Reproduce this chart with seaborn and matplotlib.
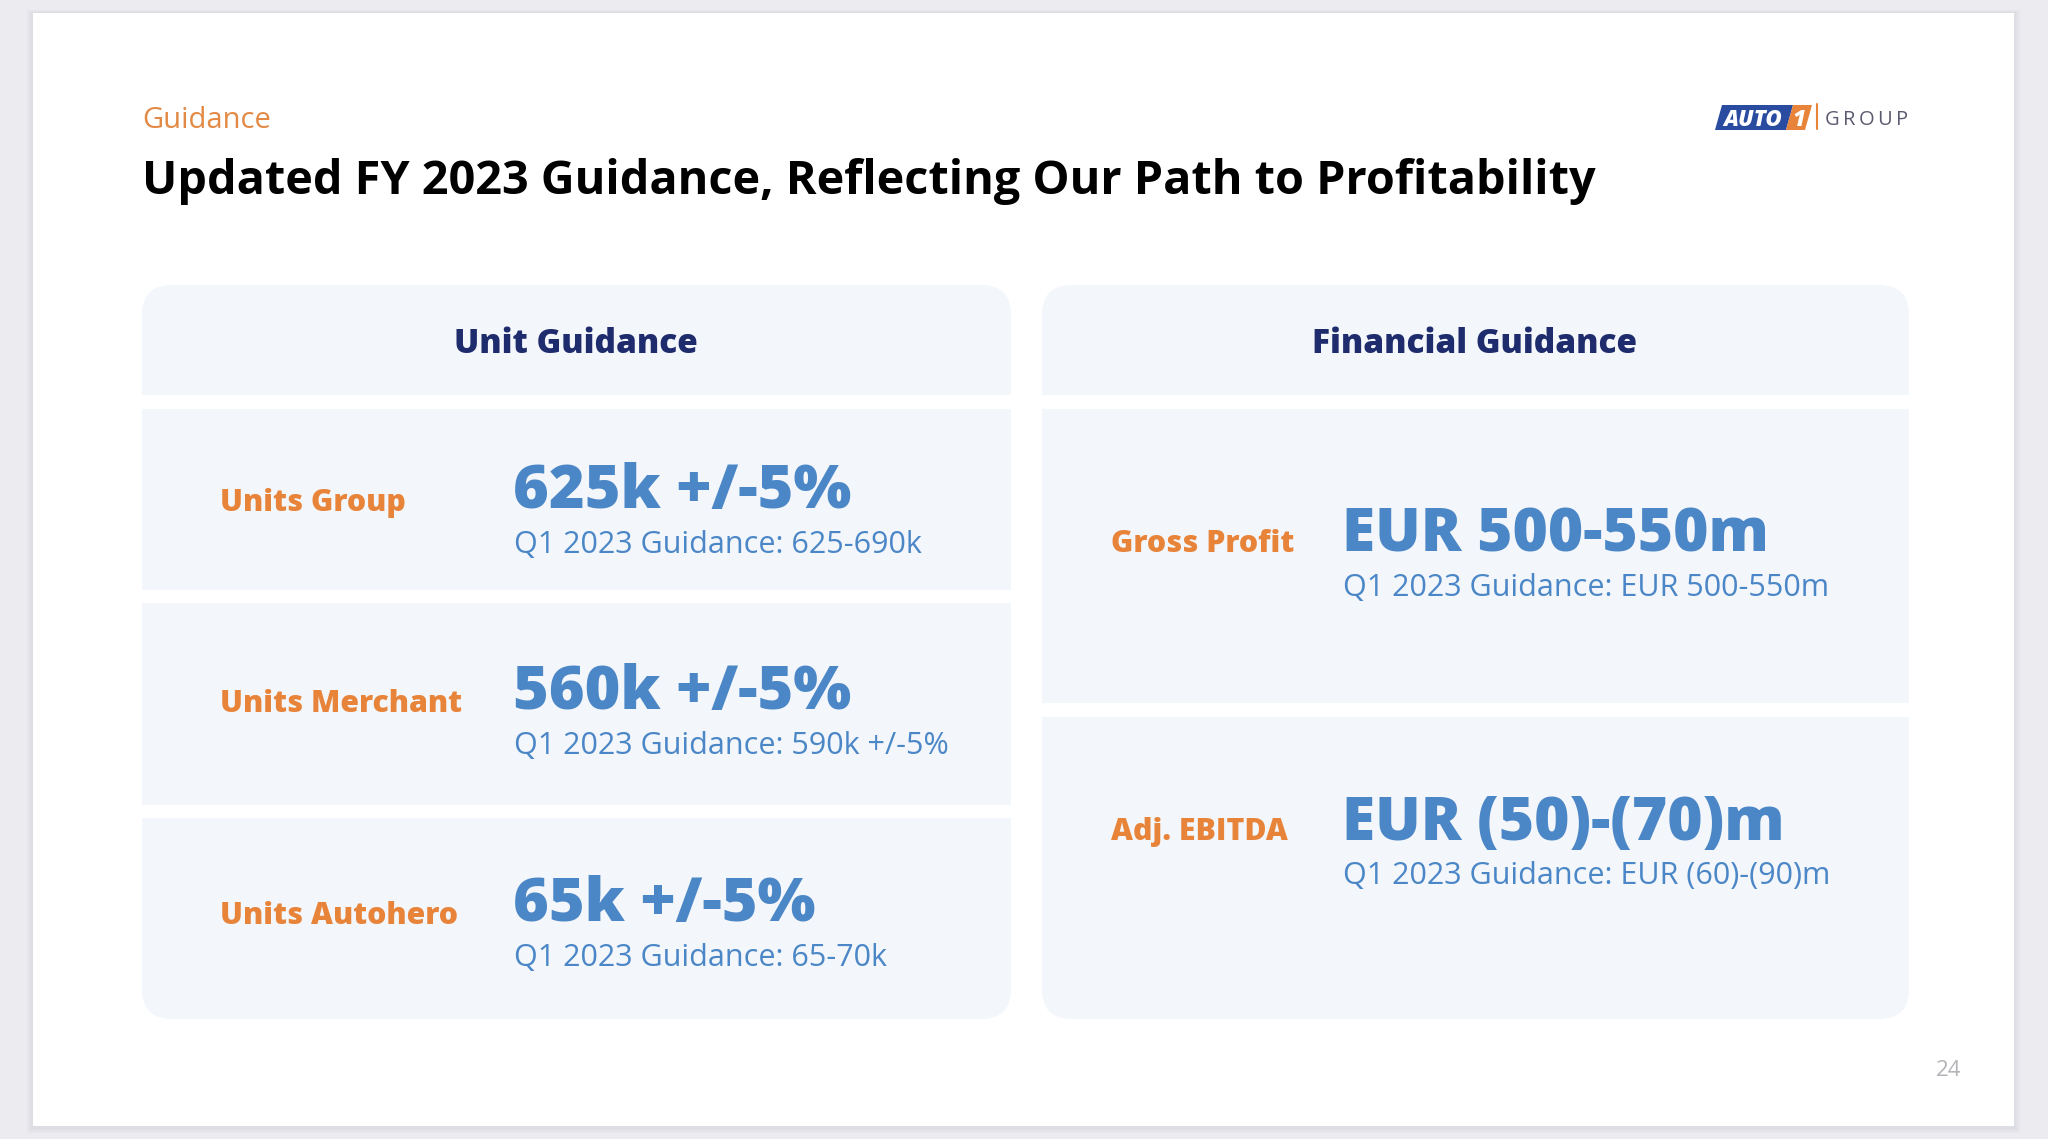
import matplotlib.pyplot as plt
import seaborn as sns
from matplotlib.patches import FancyBboxPatch, Rectangle, Polygon

# slide text content
section_label = "Guidance"
slide_title = "Updated FY 2023 Guidance, Reflecting Our Path to Profitability"
panel_titles = ["Unit Guidance", "Financial Guidance"]

unit_labels = ["Units Group", "Units Merchant", "Units Autohero"]
unit_values = ["625k +/-5%", "560k +/-5%", "65k +/-5%"]
unit_prior = ["Q1 2023 Guidance: 625-690k",
              "Q1 2023 Guidance: 590k +/-5%",
              "Q1 2023 Guidance: 65-70k"]

fin_labels = ["Gross Profit", "Adj. EBITDA"]
fin_values = ["EUR 500-550m", "EUR (50)-(70)m"]
fin_prior = ["Q1 2023 Guidance: EUR 500-550m",
             "Q1 2023 Guidance: EUR (60)-(90)m"]

page_number = "24"

sns.set_theme(style="white")
plt.rcParams["font.family"] = ["Open Sans", "DejaVu Sans"]

ORANGE = "#e8843a"
BLUE = "#4b87c7"
NAVY = "#1e2b6c"
PANEL = "#f3f6fa"
W, H = 2048, 1139

fig = plt.figure(figsize=(20.48, 11.39), dpi=100)
fig.patch.set_facecolor("#ebebf0")
ax = fig.add_axes([0, 0, 1, 1])
ax.set_xlim(0, W)
ax.set_ylim(H, 0)
ax.axis("off")

# slide card with soft shadow
for i, a in enumerate([0.05, 0.05, 0.06]):
    ax.add_patch(Rectangle((33 - 2 - i * 2, 13 - 1 - i), 1981 + 4 + i * 4, 1113 + 4 + i * 3,
                           facecolor="#9a9aa8", alpha=a, lw=0))
ax.add_patch(Rectangle((33, 13), 1981, 1113, facecolor="white", lw=0))

# header texts
ax.text(142, 128, section_label, color="#e28a45", fontsize=21, va="baseline")
ax.text(142, 194, slide_title, color="black", fontsize=33.7, fontweight="bold", va="baseline")

# logo
ax.add_patch(Polygon([(1715, 130), (1722, 105), (1793, 105), (1786, 130)],
                     closed=True, facecolor="#2a4ca0", lw=0))
ax.add_patch(Polygon([(1786, 130), (1793, 105), (1812, 105), (1805, 130)],
                     closed=True, facecolor=ORANGE, lw=0))
ax.text(1753, 125.5, "AUTO", color="white", fontsize=16, fontweight="heavy",
        fontstyle="italic", ha="center", va="baseline")
ax.text(1799, 125.5, "1", color="white", fontsize=16, fontweight="heavy",
        fontstyle="italic", ha="center", va="baseline")
ax.plot([1817, 1817], [104, 129], color=ORANGE, lw=1.5)
for k, ch in enumerate("GROUP"):
    ax.text(1832 + k * 17.5, 125, ch, color="#5b5b70", fontsize=14.5, ha="center", va="baseline")


def panel(x0, x1, gaps):
    ax.add_patch(FancyBboxPatch((x0 + 30, 285 + 30), x1 - x0 - 60, 1019 - 285 - 60,
                                boxstyle="round,pad=30", facecolor=PANEL, lw=0))
    for g0, g1 in gaps:
        ax.add_patch(Rectangle((x0 - 2, g0), x1 - x0 + 4, g1 - g0, facecolor="white", lw=0))


panel(142, 1011, [(395, 409), (590, 603), (805, 818)])
panel(1042, 1909, [(395, 409), (703, 717)])

ax.text(576, 353, panel_titles[0], color=NAVY, fontsize=24, fontweight="heavy",
        ha="center", va="baseline")
ax.text(1475, 353, panel_titles[1], color=NAVY, fontsize=24, fontweight="heavy",
        ha="center", va="baseline")

unit_base = [508, 709, 921]
for lab, val, prior, yb in zip(unit_labels, unit_values, unit_prior, unit_base):
    ax.text(220, yb + 3, lab, color=ORANGE, fontsize=21.8, fontweight="heavy", va="baseline")
    ax.text(513, yb, val, color=BLUE, fontsize=44, fontweight="heavy", va="baseline")
    ax.text(514, yb + 45, prior, color=BLUE, fontsize=22, va="baseline")

fin_base = [552, 840]
for lab, val, prior, yb in zip(fin_labels, fin_values, fin_prior, fin_base):
    ax.text(1111, yb, lab, color=ORANGE, fontsize=21.8, fontweight="heavy", va="baseline")
    ax.text(1342, yb, val, color=BLUE, fontsize=43.5, fontweight="heavy", va="baseline")
    ax.text(1343, yb + 44, prior, color=BLUE, fontsize=22, va="baseline")

ax.text(1949, 1076, page_number, color="#b4b4b8", fontsize=16, ha="center", va="baseline")

fig.savefig("out.png", dpi=100, facecolor=fig.get_facecolor())
